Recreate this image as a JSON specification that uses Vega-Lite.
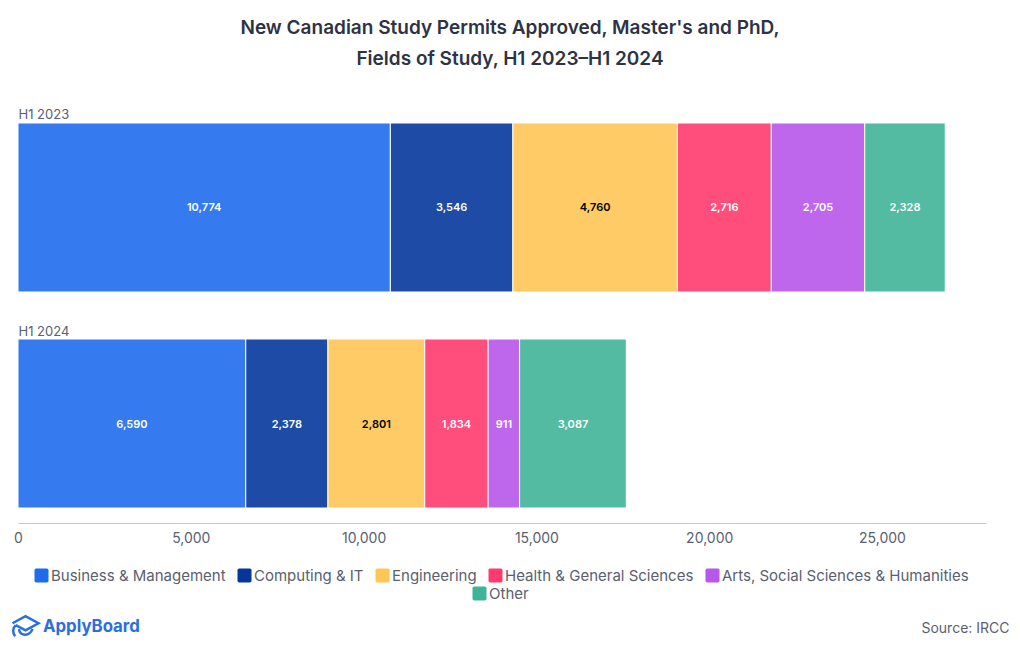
{"$schema":"https://vega.github.io/schema/vega-lite/v6.json","width":968,"height":415,"autosize":{"type":"none"},"padding":{"left":18,"top":108,"right":34,"bottom":127},"background":"white","config":{"view":{"stroke":null}},
"title":{"text":["New Canadian Study Permits Approved, Master's and PhD,","Fields of Study, H1 2023–H1 2024"],"anchor":"middle","dx":8,"offset":39,"font":"Inter","fontSize":19,"fontWeight":600,"color":"#2d3345","lineHeight":31},
"data":{"values":[
{"period":"H1 2023","category":"Business & Management","rank":1,"value":10774},
{"period":"H1 2023","category":"Computing & IT","rank":2,"value":3546},
{"period":"H1 2023","category":"Engineering","rank":3,"value":4760},
{"period":"H1 2023","category":"Health & General Sciences","rank":4,"value":2716},
{"period":"H1 2023","category":"Arts, Social Sciences & Humanities","rank":5,"value":2705},
{"period":"H1 2023","category":"Other","rank":6,"value":2328},
{"period":"H1 2024","category":"Business & Management","rank":1,"value":6590},
{"period":"H1 2024","category":"Computing & IT","rank":2,"value":2378},
{"period":"H1 2024","category":"Engineering","rank":3,"value":2801},
{"period":"H1 2024","category":"Health & General Sciences","rank":4,"value":1834},
{"period":"H1 2024","category":"Arts, Social Sciences & Humanities","rank":5,"value":911},
{"period":"H1 2024","category":"Other","rank":6,"value":3087}]},
"encoding":{"y":{"field":"period","type":"nominal","scale":{"paddingInner":0.2176,"paddingOuter":0.0694},"axis":{"title":null,"domain":false,"ticks":false,"labelAlign":"left","labelPadding":0,"labelOffset":-92,"labelBound":false,"labelFont":"Inter","labelFontSize":13,"labelColor":"#5a6070"}}},
"layer":[
{"mark":{"type":"bar","stroke":"white","strokeWidth":1,"fillOpacity":0.9},
"encoding":{"x":{"field":"value","type":"quantitative","stack":"zero","scale":{"domain":[0,28009],"nice":false},"axis":{"title":"Source: IRCC","titleX":991,"titleY":105,"titleAlign":"right","titleBaseline":"middle","titleFont":"Inter","titleFontSize":14,"titleFontWeight":400,"titleColor":"#5a6070","values":[0,5000,10000,15000,20000,25000],"labelExpr":"format(datum.value, ',')","labelFlush":false,"grid":false,"ticks":false,"domainColor":"#c8c8c8","labelFont":"Inter","labelFontSize":14,"labelColor":"#5a6070","labelPadding":8}},
"order":{"field":"rank","type":"quantitative"},
"fill":{"field":"category","type":"nominal","scale":{"domain":["Business & Management","Computing & IT","Engineering","Health & General Sciences","Arts, Social Sciences & Humanities","Other"],"range":["#1f6bec","#04379c","#ffc555","#ff3a6e","#b857ea","#3fb498"]},"legend":{"values":["Business & Management","Computing & IT","Engineering","Health & General Sciences","Arts, Social Sciences & Humanities"],"orient":"none","legendX":16,"legendY":460,"title":null,"columns":5,"gridAlign":"none","columnPadding":11,"padding":0,"symbolType":"M-0.75,-1H0.75Q1,-1 1,-0.75V0.75Q1,1 0.75,1H-0.75Q-1,1 -1,0.75V-0.75Q-1,-1 -0.75,-1Z","symbolSize":196,"symbolOpacity":1,"symbolStrokeWidth":0,"labelFont":"Inter","labelFontSize":15,"labelColor":"#5a6070","labelOffset":2,"labelLimit":400}}}},
{"mark":{"type":"text","font":"Inter","fontSize":11,"fontWeight":600,"dy":1},
"encoding":{"x":{"field":"value","type":"quantitative","stack":"zero","bandPosition":0.5},"order":{"field":"rank","type":"quantitative"},"detail":{"field":"category"},"text":{"field":"value","type":"quantitative","format":","},"color":{"condition":{"test":"datum.category === 'Engineering'","value":"#000000"},"value":"#ffffff"}}},
{"transform":[{"filter":"datum.category === 'Other'"}],"mark":{"type":"point","filled":true,"opacity":0},
"encoding":{"y":{"field":"period","type":"nominal"},"color":{"field":"category","type":"nominal","scale":{"domain":["Other"],"range":["#3fb498"]},"legend":{"orient":"none","legendX":454,"legendY":478,"title":null,"padding":0,"symbolType":"M-0.75,-1H0.75Q1,-1 1,-0.75V0.75Q1,1 0.75,1H-0.75Q-1,1 -1,0.75V-0.75Q-1,-1 -0.75,-1Z","symbolSize":196,"symbolOpacity":1,"symbolStrokeWidth":0,"labelFont":"Inter","labelFontSize":15,"labelColor":"#5a6070","labelOffset":2}},
"shape":{"datum":"ApplyBoard","scale":{"domain":["ApplyBoard"],"range":["M-1,-0.25L0,-0.8L1,-0.25L0,0.3L-0.75,-0.1M-0.75,-0.1C-1,0.1 -1,0.5 -0.8,0.75M-0.5,0.2C-0.45,0.7 0.25,0.85 0.55,0.2"]},"legend":{"orient":"none","legendX":-7,"legendY":504,"title":null,"padding":0,"symbolSize":676,"symbolOpacity":1,"symbolFillColor":"transparent","symbolStrokeColor":"#2a6fe0","symbolStrokeWidth":2.5,"labelFont":"Inter","labelFontSize":16.8,"labelFontWeight":700,"labelColor":"#2a6fe0","labelOffset":3}}}}
]}
